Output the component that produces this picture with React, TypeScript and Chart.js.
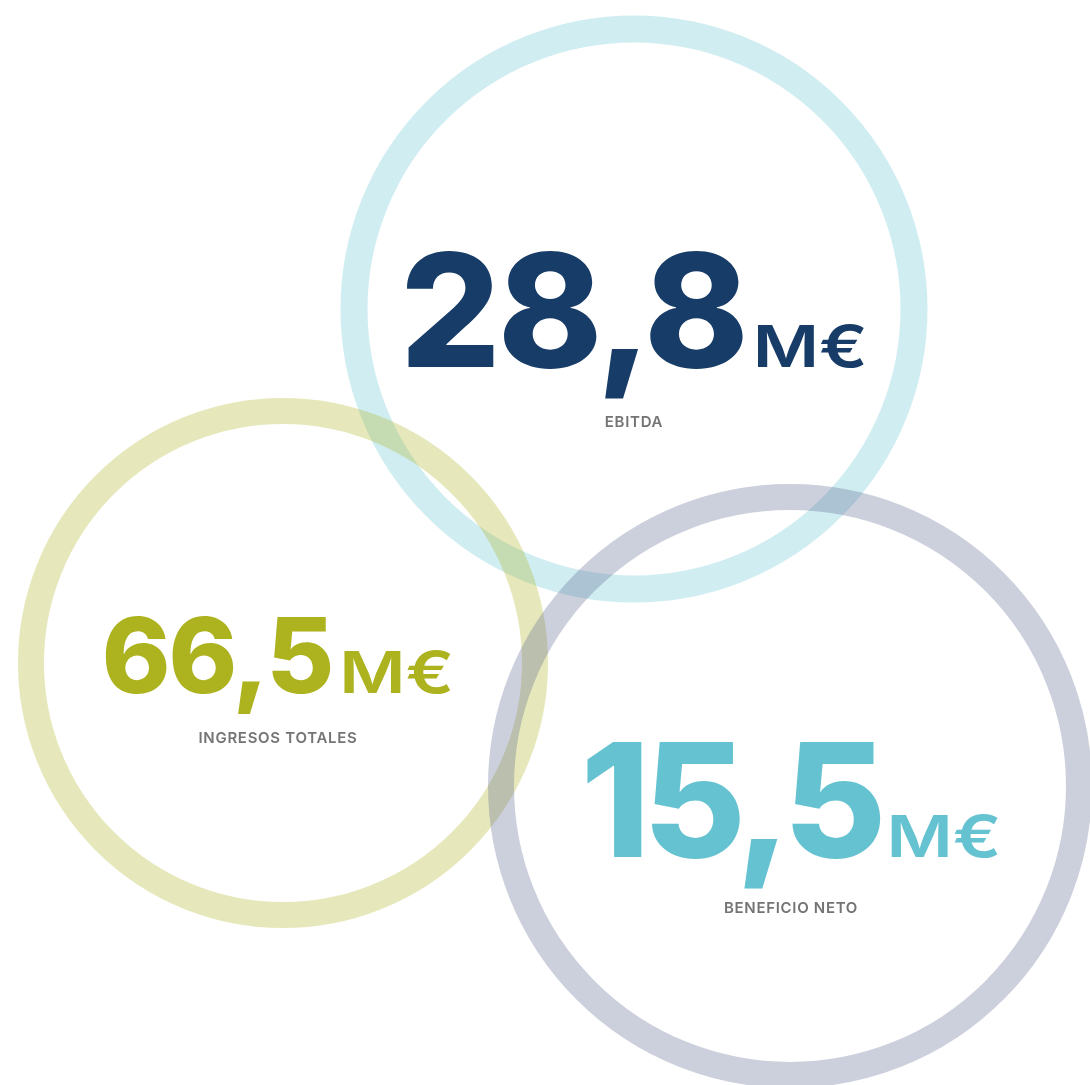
import React, { useEffect, useRef } from "react";
import { Chart, registerables } from "chart.js";

Chart.register(...registerables);

// Data
const categories = ["EBITDA", "INGRESOS TOTALES", "BENEFICIO NETO"];
const values = [28.8, 66.5, 15.5];
const unit = "M€";
// bubble centres (in scale units) and ring radii
const centerX = [634, 283, 790];
const centerY = [309, 663, 786];
const ringRadius = [280, 252, 289];

// Styles
const textColors = ["#173c68", "#adb31e", "#65c3d1"];
const ringColors = [
  "rgba(101,195,210,0.3)",
  "rgba(173,179,31,0.3)",
  "rgba(85,95,138,0.3)",
];
const ringWidths = [27, 26, 26];
const numberSizes = [158, 104, 158];
const numberSpacing = [-0.02, -0.02, -0.045];
const numberDy = [58, 30, 71];
const labelDy = [118, 80, 127];
const groupDx = [0, -5, 1];
const unitStretch = 1.24;

const fmt = (v: number) => v.toFixed(1).replace(".", ",");

const textPlugin = {
  id: "ringText",
  afterDatasetsDraw(chart: any) {
    const ctx = chart.ctx as CanvasRenderingContext2D;
    const meta = chart.getDatasetMeta(0);
    meta.data.forEach((pt: any, i: number) => {
      const cx = pt.x + groupDx[i];
      const cy = pt.y;
      ctx.save();
      ctx.textBaseline = "alphabetic";
      ctx.textAlign = "left";
      const numText = fmt(values[i]);
      const numFont = `800 ${numberSizes[i]}px Inter`;
      const numLS = `${numberSizes[i] * numberSpacing[i]}px`;
      ctx.font = numFont;
      (ctx as any).letterSpacing = numLS;
      const numW = ctx.measureText(numText).width;
      ctx.font = `600 58px Inter`;
      (ctx as any).letterSpacing = "0px";
      const unitW = ctx.measureText(unit).width * unitStretch;
      const gap = 7;
      const total = numW + gap + unitW;
      let x = cx - total / 2;
      const base = cy + numberDy[i];
      ctx.fillStyle = textColors[i];
      ctx.font = numFont;
      (ctx as any).letterSpacing = numLS;
      ctx.fillText(numText, x, base);
      x += numW + gap;
      ctx.font = `600 58px Inter`;
      (ctx as any).letterSpacing = "0px";
      ctx.save();
      ctx.translate(x, base);
      ctx.scale(unitStretch, 1);
      ctx.fillText(unit, 0, 0);
      ctx.restore();
      // label
      ctx.textAlign = "center";
      ctx.font = `600 15px Inter`;
      (ctx as any).letterSpacing = "0.7px";
      ctx.fillStyle = "#747474";
      ctx.fillText(categories[i], cx, cy + labelDy[i]);
      ctx.restore();
    });
  },
};

export default function App() {
  const ref = useRef<HTMLCanvasElement>(null);
  useEffect(() => {
    if (!ref.current) return;
    const chart = new Chart(ref.current, {
      type: "bubble",
      data: {
        labels: categories,
        datasets: [
          {
            data: categories.map((_, i) => ({
              x: centerX[i],
              y: centerY[i],
              r: ringRadius[i],
            })),
            backgroundColor: "rgba(0,0,0,0)",
            borderColor: ringColors,
            borderWidth: ringWidths,
            hoverBorderWidth: ringWidths,
            clip: false as any,
          },
        ],
      },
      options: {
        responsive: false,
        animation: false,
        devicePixelRatio: 1,
        events: [],
        layout: { padding: 0, autoPadding: false },
        plugins: { legend: { display: false }, tooltip: { enabled: false } },
        scales: {
          x: { type: "linear", min: 0, max: 1090, display: false },
          y: { type: "linear", min: 0, max: 1085, reverse: true, display: false },
        },
      },
      plugins: [textPlugin],
    });
    return () => chart.destroy();
  }, []);
  return (
    <div style={{ position: "absolute", left: 0, top: 0, width: 1090, height: 1085, background: "#fff" }}>
      <canvas ref={ref} width={1090} height={1085} style={{ display: "block" }} />
    </div>
  );
}
